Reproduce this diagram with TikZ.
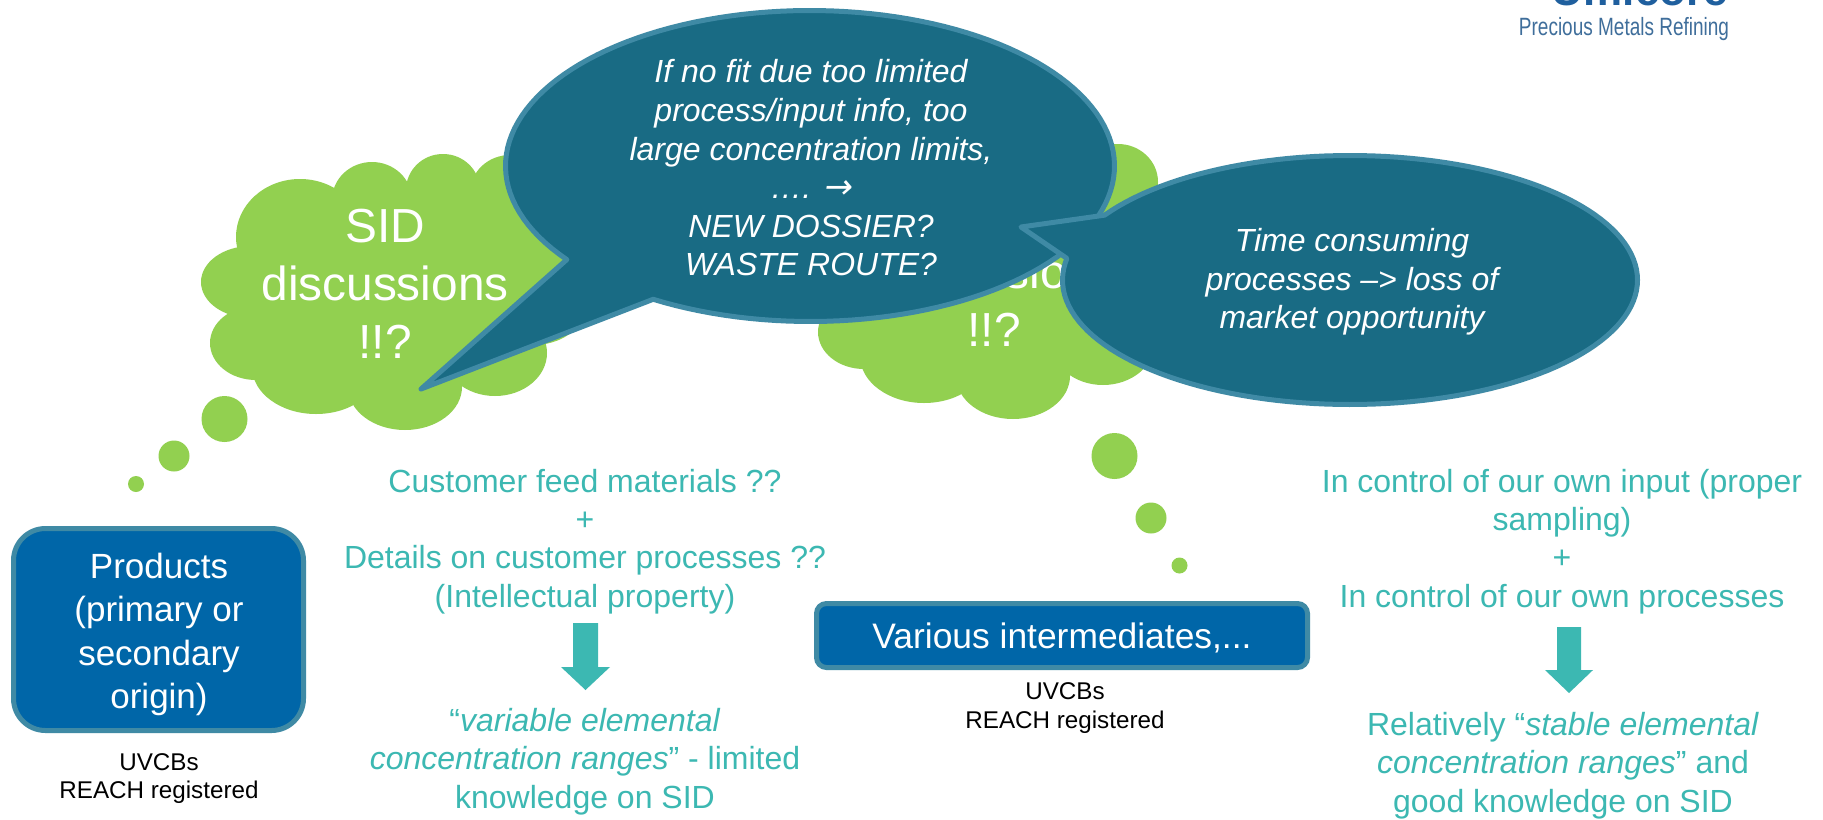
\documentclass[tikz,border=0pt]{standalone}
\usepackage{fontspec}
\setmainfont{Liberation Sans}
\newfontfamily\arrowfont[FakeSlant=0.15]{DejaVu Sans ExtraLight}
\definecolor{cloudgreen}{HTML}{92D050}
\definecolor{bubblefill}{HTML}{196B84}
\definecolor{bubbleedge}{HTML}{3F8AA5}
\definecolor{boxfill}{HTML}{0066A8}
\definecolor{tealtext}{HTML}{3CB8B2}
\definecolor{logodark}{HTML}{1F5F9E}
\definecolor{logolight}{HTML}{3F6E9B}
\newcommand{\fs}[2]{\fontsize{#1}{#2}\selectfont}
\tikzset{
  lobe/.style={fill=cloudgreen,draw=none},
  bubble/.style={fill=bubblefill,draw=bubbleedge,line width=2.5pt,line join=round},
  prodbox/.style={fill=boxfill,draw=bubbleedge,line width=2.5pt,rounded corners=#1},
  cloudtext/.style={text=white,align=center,font=\fs{23.9}{29}},
  bubbletext/.style={text=white,align=center,font=\fs{16}{19.3}\itshape},
  boxtext/.style={text=white,align=center,font=\fs{17.5}{21.6}},
  tealblock/.style={text=tealtext,align=center,font=\fs{16}{19.2}},
  blacknote/.style={text=black,align=center,font=\fs{12.1}{14.3}},
  fatarrow/.style={fill=tealtext,draw=none},
  cloudshape/.pic={
    \fill[lobe] (300,237) ellipse [x radius=64,y radius=58];
    \fill[lobe] (251,282) ellipse [x radius=50,y radius=36];
    \fill[lobe] (256,343) ellipse [x radius=46,y radius=37];
    \fill[lobe] (316,367) ellipse [x radius=64,y radius=47];
    \fill[lobe] (405,387) ellipse [x radius=57,y radius=43];
    \fill[lobe] (495,353) ellipse [x radius=52,y radius=43];
    \fill[lobe] (533,310) ellipse [x radius=50,y radius=35];
    \fill[lobe] (372,200) ellipse [x radius=40,y radius=38];
    \fill[lobe] (443,190) ellipse [x radius=37,y radius=36];
    \fill[lobe] (510,193) ellipse [x radius=40,y radius=38];
    \fill[lobe] (400,285) ellipse [x radius=150,y radius=100];
    \fill[lobe] (500,260) ellipse [x radius=85,y radius=60];
  },
}
\begin{document}
\begin{tikzpicture}[x=0.5pt,y=-0.5pt]
\useasboundingbox (0,0) rectangle (1823,819);
\clip (0,0) rectangle (1823,819);
\fill[white] (0,0) rectangle (1823,819);

% logo
\node[anchor=base,text=logodark,font=\fs{22}{26}\bfseries,inner sep=0pt] (logomark) at (1640,5) {Umicore};
\node[text=logolight,font=\fs{12.5}{15},inner sep=0pt] (logosub) at (1624,29) {\scalebox{.76}[1]{Precious Metals Refining}};

% clouds
\pic at (0,0) {cloudshape};
\pic at (608,-11) {cloudshape};
\fill[lobe] (224.5,419) ellipse [x radius=23,y radius=23];
\fill[lobe] (174,456) ellipse [x radius=15.5,y radius=15.5];
\fill[lobe] (136,484) ellipse [x radius=8,y radius=8];
\fill[lobe] (1114.5,456) ellipse [x radius=23,y radius=23];
\fill[lobe] (1151,518) ellipse [x radius=15.5,y radius=15.5];
\fill[lobe] (1179.5,565.5) ellipse [x radius=8,y radius=8];
\node[cloudtext] (cloudA) at (385,283.5) {SID\\discussions\\!!?};
\node[cloudtext] (cloudB) at (994,272) {SID\\discussions\\!!?};

% speech bubbles
\coordinate (tailA) at (421,389);
\coordinate (tailB) at (1021,227);
\draw[bubble] plot[domain=143:481,samples=140] ({810+304.5*cos(\x)},{166+155.5*sin(\x)}) -- (tailA) -- cycle;
\draw[bubble] plot[domain=211.4:550,samples=140] ({1350+287.5*cos(\x)},{280+124.5*sin(\x)}) -- (tailB) -- cycle;
\node[bubbletext] (bubbleA) at (811,168) {If no fit due too limited\\process/input info, too\\large concentration limits,\\…. {\arrowfont\fontsize{17}{19.3}\selectfont →}\\NEW DOSSIER?\\WASTE ROUTE?};
\node[bubbletext] (bubbleB) at (1352,282) {Time consuming\\processes –> loss of\\market opportunity};

% boxes
\draw[prodbox=16pt] (13.5,528.5) rectangle (303.5,730.5);
\node[boxtext] (prodA) at (159,634.5) {Products\\(primary or\\secondary\\origin)};
\draw[prodbox=5pt] (816.5,603.5) rectangle (1307.5,667.5);
\node[boxtext,font=\fs{17.7}{21.6}] (prodB) at (1062,638) {Various intermediates,...};
\node[blacknote] (noteA) at (159,778.5) {UVCBs\\REACH registered};
\node[blacknote] (noteB) at (1065,708) {UVCBs\\REACH registered};

% teal blocks
\node[tealblock] (feedA) at (585,541.5) {Customer feed materials ??\\+\\Details on customer processes ??\\(Intellectual property)};
\fill[fatarrow] (573,623) -- (598,623) -- (598,667) -- (610,667) -- (585.5,690) -- (561,667) -- (573,667) -- cycle;
\node[tealblock] (resA) at (585,761.5) {“\textit{variable elemental}\\\textit{concentration ranges}” - limited\\knowledge on SID};
\node[tealblock] (feedB) at (1562,541.5) {In control of our own input (proper\\sampling)\\+\\In control of our own processes};
\fill[fatarrow] (1557,627) -- (1581,627) -- (1581,670) -- (1593,670) -- (1569,693) -- (1545,670) -- (1557,670) -- cycle;
\node[tealblock] (resB) at (1563,765.5) {Relatively “\textit{stable elemental}\\\textit{concentration ranges}” and\\good knowledge on SID};
\end{tikzpicture}
\end{document}
